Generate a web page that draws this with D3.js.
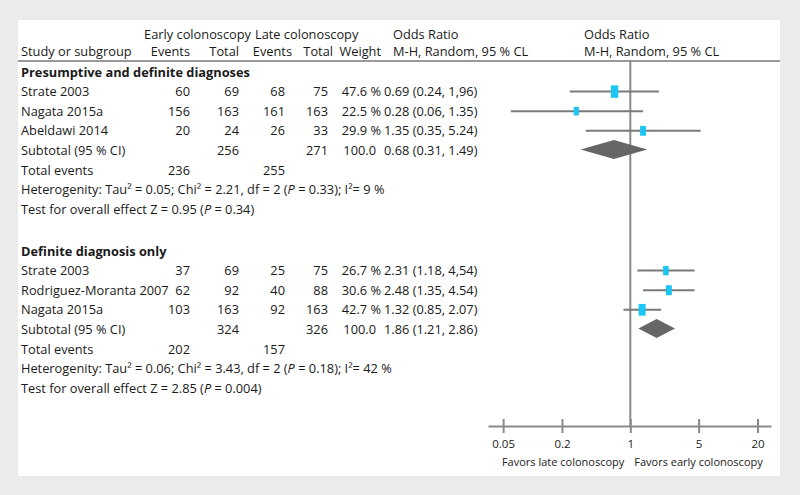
<!DOCTYPE html>
<html><head><meta charset="utf-8">
<script src="https://cdn.jsdelivr.net/npm/d3@7"></script>
<style>
html,body{margin:0;padding:0;background:#ebebeb;}
svg{display:block;}
text{font-family:"Open Sans",sans-serif;fill:#1a1a1a;}
</style></head><body>
<svg id="c" width="800" height="495"></svg>
<script>
// ---- data ----
const groupTitles = ["Presumptive and definite diagnoses", "Definite diagnosis only"];
const g1Studies = ["Strate 2003", "Nagata 2015a", "Abeldawi 2014"];
const g1EarlyEvents = [60, 156, 20];
const g1EarlyTotal = [69, 163, 24];
const g1LateEvents = [68, 161, 26];
const g1LateTotal = [75, 163, 33];
const g1Weight = [47.6, 22.5, 29.9];
const g1OR = [0.69, 0.28, 1.35];
const g1Lo = [0.24, 0.06, 0.35];
const g1Hi = [1.96, 1.35, 5.24];
const g1CIText = ["0.69 (0.24, 1,96)", "0.28 (0.06, 1.35)", "1.35 (0.35, 5.24)"];
const g1Subtotal = {early: 256, late: 271, or: 0.68, lo: 0.31, hi: 1.49, text: "0.68 (0.31, 1.49)"};
const g1TotalEvents = [236, 255];
const g1Het = ["0.05", "2.21", "2", "0.33", "9"];
const g1Test = ["0.95", "0.34"];

const g2Studies = ["Strate 2003", "Rodriguez-Moranta 2007", "Nagata 2015a"];
const g2EarlyEvents = [37, 62, 103];
const g2EarlyTotal = [69, 92, 163];
const g2LateEvents = [25, 40, 92];
const g2LateTotal = [75, 88, 163];
const g2Weight = [26.7, 30.6, 42.7];
const g2OR = [2.31, 2.48, 1.32];
const g2Lo = [1.18, 1.35, 0.85];
const g2Hi = [4.54, 4.54, 2.07];
const g2CIText = ["2.31 (1.18, 4,54)", "2.48 (1.35, 4.54)", "1.32 (0.85, 2.07)"];
const g2Subtotal = {early: 324, late: 326, or: 1.86, lo: 1.21, hi: 2.86, text: "1.86 (1.21, 2.86)"};
const g2TotalEvents = [202, 157];
const g2Het = ["0.06", "3.43", "2", "0.18", "42"];
const g2Test = ["2.85", "0.004"];

const tickValues = [0.05, 0.2, 1, 5, 20];
const tickLabels = ["0.05", "0.2", "1", "5", "20"];

// ---- layout ----
const svg = d3.select("#c");
svg.append("rect").attr("x", 18).attr("y", 20).attr("width", 762).attr("height", 456).attr("fill", "#fff");

const FS = 12.8;
const colStudy = 21, colEE = 190, colET = 239, colLE = 285, colLT = 328, colW = 381, colOR = 384;

const x = d3.scaleLog().domain([0.035, 27.5]).range([488, 771]);
const rowY = i => 72 + 19.6 * i + (i >= 9 ? 2.6 : 0);

function txt(xp, yp, s, anchor, opts = {}) {
  const t = svg.append("text").attr("x", xp).attr("y", yp).attr("dy", "0.36em")
    .attr("text-anchor", anchor || "start").attr("font-size", opts.size || FS);
  if (opts.bold) t.attr("font-weight", "bold");
  t.text(s);
  return t;
}

// header
txt(251, 34, "Early colonoscopy", "end");
txt(255, 34, "Late colonoscopy");
txt(393, 34, "Odds Ratio");
txt(584, 34, "Odds Ratio");
txt(colStudy, 51, "Study or subgroup");
txt(colEE, 51, "Events", "end");
txt(colET, 51, "Total", "end");
txt(292, 51, "Events", "end");
txt(333, 51, "Total", "end");
txt(colW, 51, "Weight", "end");
txt(393, 51, "M-H, Random, 95 % CL");
txt(584, 51, "M-H, Random, 95 % CL");
svg.append("line").attr("x1", 18).attr("x2", 780).attr("y1", 61).attr("y2", 61)
  .attr("stroke", "#999").attr("stroke-width", 2);

// null line
svg.append("line").attr("x1", x(1)).attr("x2", x(1)).attr("y1", 61).attr("y2", 426)
  .attr("stroke", "#8a8a8a").attr("stroke-width", 2);

const sizeScale = d3.scaleSqrt().domain([0, 100]).range([0, 18]);

function drawGroup(start, title, studies, ee, et, le, lt, w, or, lo, hi, ciText, sub, totEv, het, test) {
  txt(colStudy, rowY(start), title, "start", {bold: true});
  studies.forEach((s, i) => {
    const y = rowY(start + 1 + i);
    txt(colStudy, y, s);
    txt(colEE, y, ee[i], "end");
    txt(colET, y, et[i], "end");
    txt(colLE, y, le[i], "end");
    txt(colLT, y, lt[i], "end");
    txt(colW, y, w[i].toFixed(1) + " %", "end");
    txt(colOR, y, ciText[i]);
    svg.append("line").attr("x1", x(lo[i])).attr("x2", x(hi[i])).attr("y1", y).attr("y2", y)
      .attr("stroke", "#7a7a7a").attr("stroke-width", 2);
    const h = sizeScale(w[i]), wd = h * 0.6;
    svg.append("rect").attr("x", x(or[i]) - wd / 2).attr("y", y - h / 2)
      .attr("width", wd).attr("height", h).attr("fill", "#1cc6f2");
  });
  const ys = rowY(start + 4);
  txt(colStudy, ys, "Subtotal (95 % CI)");
  txt(colET, ys, sub.early, "end");
  txt(colLT, ys, sub.late, "end");
  txt(376, ys, "100.0", "end");
  txt(colOR, ys, sub.text);
  const dy = 9.5;
  svg.append("path")
    .attr("d", `M${x(sub.lo)},${ys - 1}L${x(sub.or)},${ys - 1 - dy}L${x(sub.hi)},${ys - 1}L${x(sub.or)},${ys - 1 + dy}Z`)
    .attr("fill", "#666");
  const yt = rowY(start + 5);
  txt(colStudy, yt, "Total events");
  txt(colEE, yt, totEv[0], "end");
  txt(colLE, yt, totEv[1], "end");
  const yh = rowY(start + 6);
  const th = txt(colStudy, yh, "");
  th.append("tspan").text(`Heterogenity: Tau² = ${het[0]}; Chi² = ${het[1]}, df = ${het[2]} (`);
  th.append("tspan").attr("font-style", "italic").text("P");
  th.append("tspan").text(` = ${het[3]}); I²= ${het[4]} %`);
  const yz = rowY(start + 7);
  const tz = txt(colStudy, yz, "");
  tz.append("tspan").text(`Test for overall effect Z = ${test[0]} (`);
  tz.append("tspan").attr("font-style", "italic").text("P");
  tz.append("tspan").text(` = ${test[1]})`);
}

drawGroup(0, groupTitles[0], g1Studies, g1EarlyEvents, g1EarlyTotal, g1LateEvents, g1LateTotal, g1Weight, g1OR, g1Lo, g1Hi, g1CIText, g1Subtotal, g1TotalEvents, g1Het, g1Test);
drawGroup(9, groupTitles[1], g2Studies, g2EarlyEvents, g2EarlyTotal, g2LateEvents, g2LateTotal, g2Weight, g2OR, g2Lo, g2Hi, g2CIText, g2Subtotal, g2TotalEvents, g2Het, g2Test);

// axis
const axisY = 426;
const ax = svg.append("g").attr("transform", `translate(0,${axisY})`)
  .call(d3.axisBottom(x).tickValues(tickValues).tickFormat((d, i) => tickLabels[i]).tickSize(7).tickSizeOuter(0));
ax.select(".domain").attr("stroke", "#8a8a8a").attr("stroke-width", 2);
ax.selectAll(".tick line").attr("y1", -7).attr("y2", 7).attr("stroke", "#8a8a8a").attr("stroke-width", 2);
ax.selectAll(".tick text").attr("y", 17).attr("dy", "0").attr("font-size", 11.5)
  .attr("font-family", "Open Sans, sans-serif").attr("fill", "#1a1a1a").attr("dominant-baseline", "central");
txt(x(1) - 6, 462, "Favors late colonoscopy", "end", {size: 11});
txt(x(1) + 4, 462, "Favors early colonoscopy", "start", {size: 11});
</script>
</body></html>
